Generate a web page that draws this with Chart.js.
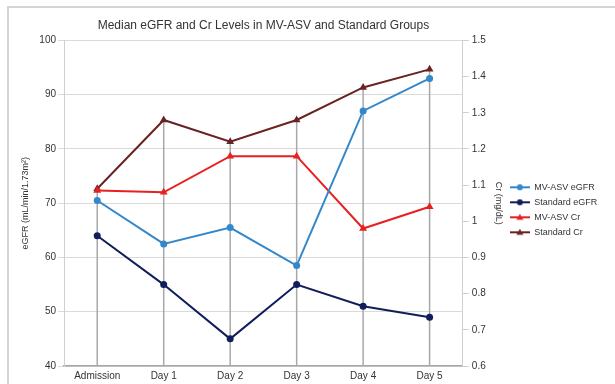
<!DOCTYPE html>
<html>
<head>
<meta charset="utf-8">
<script src="https://cdn.jsdelivr.net/npm/chart.js@4/dist/chart.umd.min.js"></script>
<style>
  html, body { margin: 0; padding: 0; background: #fff; }
  #wrap { width: 615px; height: 384px; }
</style>
</head>
<body>
<div id="wrap"><canvas id="chart" width="615" height="384"></canvas></div>
<script>
// values
const days = ["Admission", "Day 1", "Day 2", "Day 3", "Day 4", "Day 5"];
const mvAsvEgfr = [70.5, 62.5, 65.5, 58.5, 87, 93];
const standardEgfr = [64, 55, 45, 55, 51, 49];
const mvAsvCr = [1.085, 1.08, 1.18, 1.18, 0.98, 1.04];
const standardCr = [1.09, 1.28, 1.22, 1.28, 1.37, 1.42];

const FONT = "'Liberation Sans', Arial, sans-serif";

// small line+marker swatch used as the legend symbol
function swatch(color, marker) {
  const c = document.createElement("canvas");
  c.width = 20;
  c.height = 10;
  const g = c.getContext("2d");
  g.strokeStyle = color;
  g.fillStyle = color;
  g.lineWidth = 2;
  g.beginPath();
  g.moveTo(0, 5);
  g.lineTo(20, 5);
  g.stroke();
  g.beginPath();
  if (marker === "triangle") {
    g.moveTo(10, 1.5);
    g.lineTo(13.5, 7.5);
    g.lineTo(6.5, 7.5);
    g.closePath();
  } else {
    g.arc(10, 5, 3, 0, Math.PI * 2);
  }
  g.fill();
  return c;
}

// gray frame round the chart, like the pasted office chart
const framePlugin = {
  id: "frame",
  beforeDraw(chart) {
    const ctx = chart.ctx;
    ctx.save();
    ctx.fillStyle = "#fff";
    ctx.fillRect(0, 0, chart.width, chart.height);
    ctx.strokeStyle = "#d4d4d4";
    ctx.lineWidth = 2;
    ctx.beginPath();
    ctx.moveTo(8, chart.height);
    ctx.lineTo(8, 7);
    ctx.lineTo(chart.width, 7);
    ctx.stroke();
    ctx.restore();
  },
};

// drop lines from the highest point of each category down to the x axis
const dropLines = {
  id: "dropLines",
  beforeDatasetsDraw(chart) {
    const ctx = chart.ctx;
    const bottom = chart.chartArea.bottom;
    const metas = chart.getSortedVisibleDatasetMetas();
    ctx.save();
    ctx.strokeStyle = "#a8a8a8";
    ctx.lineWidth = 1.5;
    days.forEach((d, i) => {
      let top = bottom;
      metas.forEach((m) => {
        const el = m.data[i];
        if (el && el.y < top) top = el.y;
      });
      const x = metas[0].data[i].x;
      ctx.beginPath();
      ctx.moveTo(x, top);
      ctx.lineTo(x, bottom);
      ctx.stroke();
    });
    ctx.restore();
  },
};

const series = [
  { label: "MV-ASV eGFR", data: mvAsvEgfr, color: "#3388cc", marker: "circle", axis: "y" },
  { label: "Standard eGFR", data: standardEgfr, color: "#101e5c", marker: "circle", axis: "y" },
  { label: "MV-ASV Cr", data: mvAsvCr, color: "#e82020", marker: "triangle", axis: "y1" },
  { label: "Standard Cr", data: standardCr, color: "#6b2222", marker: "triangle", axis: "y1" },
];

new Chart(document.getElementById("chart"), {
  type: "line",
  data: {
    labels: days,
    datasets: series.map((s) => ({
      label: s.label,
      data: s.data,
      yAxisID: s.axis,
      borderColor: s.color,
      backgroundColor: s.color,
      borderWidth: 2,
      pointStyle: s.marker,
      pointRadius: s.marker === "triangle" ? 4.5 : 3.5,
      pointBorderWidth: 0,
      tension: 0,
    })),
  },
  options: {
    responsive: false,
    animation: false,
    devicePixelRatio: 1,
    layout: { padding: { left: 8, right: 12, top: 0, bottom: 0 } },
    plugins: {
      title: {
        display: true,
        fullSize: false,
        text: "Median eGFR and Cr Levels in MV-ASV and Standard Groups",
        color: "#333",
        font: { family: FONT, size: 12, weight: "normal" },
        padding: { top: 18, bottom: 8 },
      },
      legend: {
        position: "right",
        fullSize: false,
        title: {
          display: true,
          text: " ",
          font: { size: 1 },
          padding: { top: 0, bottom: 12 },
        },
        labels: {
          color: "#333",
          font: { family: FONT, size: 9 },
          usePointStyle: true,
          pointStyleWidth: 20,
          padding: 6,
          generateLabels(chart) {
            return series.map((s, i) => ({
              text: s.label,
              datasetIndex: i,
              pointStyle: swatch(s.color, s.marker),
              fontColor: "#333",
              lineWidth: 0,
            }));
          },
        },
      },
      tooltip: { enabled: false },
    },
    scales: {
      x: {
        offset: true,
        grid: { display: false, drawTicks: false, tickLength: 0 },
        border: { display: true, color: "#a6a6a6", width: 1.5 },
        ticks: { color: "#333", font: { family: FONT, size: 10 }, padding: 4 },
        afterFit(s) { s.height = 18; },
      },
      y: {
        position: "left",
        min: 40,
        max: 100,
        ticks: { stepSize: 10, color: "#333", font: { family: FONT, size: 10 }, padding: 2 },
        grid: { color: "#dadada", tickLength: 6 },
        border: { color: "#cfcfcf" },
        title: {
          display: true,
          text: "eGFR (mL/min/1.73m²)",
          color: "#333",
          font: { family: FONT, size: 9 },
          padding: { top: 12, bottom: 0 },
        },
        afterFit(s) { s.width = 56; },
      },
      y1: {
        position: "right",
        min: 0.6,
        max: 1.5,
        ticks: {
          stepSize: 0.1,
          color: "#333",
          font: { family: FONT, size: 10 },
          padding: 3,
          callback: (v) => Math.round(v * 10) / 10,
        },
        grid: { drawOnChartArea: false, color: "#cfcfcf", tickLength: 6 },
        border: { color: "#cfcfcf" },
        title: {
          display: true,
          text: "Cr (mg/dL)",
          color: "#333",
          font: { family: FONT, size: 9 },
          padding: { top: 0, bottom: 0 },
        },
        afterFit(s) { s.width = 41; },
      },
    },
  },
  plugins: [framePlugin, dropLines],
});
</script>
</body>
</html>
